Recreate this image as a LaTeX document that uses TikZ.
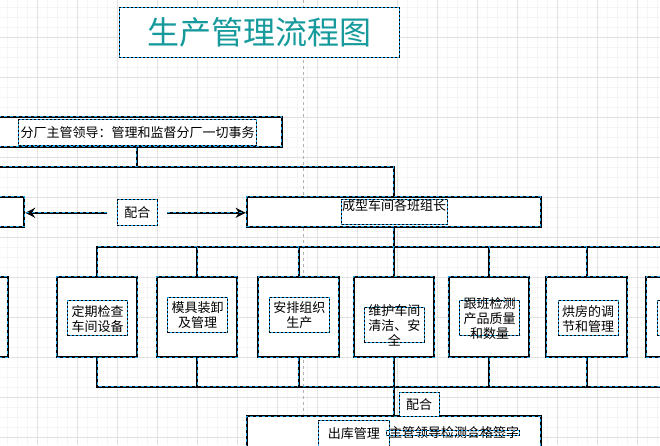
\documentclass[tikz,border=0pt]{standalone}
\usepackage{fontspec}
\setmainfont{Noto Sans CJK SC}
\usetikzlibrary{arrows.meta}

\definecolor{selblue}{RGB}{28,160,232}
\definecolor{titleteal}{RGB}{22,154,156}
\definecolor{gridminor}{RGB}{245,245,245}
\definecolor{gridmajor}{RGB}{226,226,226}

\tikzstyle{unit}=[rectangle,draw=black,line width=2pt,fill=white,inner sep=0pt,postaction={draw=selblue,line width=1pt,dash pattern=on 3pt off 3pt}]
\tikzstyle{tbox}=[rectangle,draw=selblue,line width=1pt,inner sep=0pt,postaction={draw=black,line width=1pt,dash pattern=on 2pt off 2pt}]
\tikzstyle{txt}=[inner sep=0pt,align=center,font=\fontsize{13}{15}\selectfont]
\tikzstyle{link}=[draw=black,line width=2pt,postaction={draw=selblue,line width=1pt,dash pattern=on 3pt off 3pt}]
\tikzstyle{arrowlink}=[draw=black,line width=2pt,-{Stealth[length=10pt,width=10pt]},postaction={draw=selblue,line width=1pt,dash pattern=on 3pt off 3pt,-}]

\begin{document}
\begin{tikzpicture}[x=1pt,y=-1pt]
		\useasboundingbox (0,0) rectangle (660,445);
		\clip (0,0) rectangle (660,445);
		% grid
		\foreach \g in {7.3,17.3,...,660} \draw[gridminor,line width=0.6pt] (\g,0) -- (\g,445);
		\foreach \g in {7.3,17.3,...,445} \draw[gridminor,line width=0.6pt] (0,\g) -- (660,\g);
		\foreach \g in {37.3,77.3,...,660} \draw[gridmajor,line width=0.8pt] (\g,0) -- (\g,445);
		\foreach \g in {37.3,77.3,...,445} \draw[gridmajor,line width=0.8pt] (0,\g) -- (660,\g);
		\draw[gray!60,dashed,line width=0.6pt] (303.3,0) -- (303.3,445);
		
		\node [tbox,fill=white,minimum width=280pt,minimum height=50pt,text=titleteal,font=\fontsize{32}{32}\selectfont] (title) at (259,32) {生产管理流程图};
		
		\node [unit,minimum width=289.7pt,minimum height=30pt] (mgr)     at (136.8,131.7) {};
		\node [tbox,txt,minimum width=238pt,minimum height=25.7pt] (mgrbox) at (137.5,132.8) {分厂主管领导：管理和监督分厂一切事务};
		
		\node [unit,minimum width=200pt,minimum height=30pt]   (ltop)     at (-75.8,211.7) {};
		\node [unit,minimum width=294.3pt,minimum height=30pt] (line)     at (393.8,211.7) {};
		\node [tbox,minimum width=106.3pt,minimum height=25pt] (linebox)  at (394.8,211.5) {};
		\node [txt]                                            (linetext) at (394,206) {成型车间各班组长};
		\node [tbox,txt,fill=white,minimum width=40pt,minimum height=25.7pt] (coop1) at (137.3,212.8) {配合};
		
		\node [unit,minimum size=80.6pt] (b0) at (-32.7,317) {};
		\node [unit,minimum size=80.6pt] (b1) at (97,317)    {};
		\node [unit,minimum size=80.6pt] (b2) at (197,317)   {};
		\node [unit,minimum size=80.6pt] (b3) at (298.5,317) {};
		\node [unit,minimum size=80.6pt] (b4) at (393.8,317) {};
		\node [unit,minimum size=80.6pt] (b5) at (489,317)   {};
		\node [unit,minimum size=80.6pt] (b6) at (586.7,317) {};
		\node [unit,minimum size=80.6pt] (b7) at (686.7,317) {};
		
		\node [tbox,minimum width=60pt,minimum height=35pt] (b1box) at (97.5,318.2)  {};
		\node [tbox,minimum width=60pt,minimum height=35pt] (b2box) at (197.5,315)   {};
		\node [tbox,minimum width=60pt,minimum height=35pt] (b3box) at (299.3,315)   {};
		\node [tbox,minimum width=60pt,minimum height=35pt] (b4box) at (394.3,324.8) {};
		\node [tbox,minimum width=60pt,minimum height=35pt] (b5box) at (489.7,317.9) {};
		\node [tbox,minimum width=60pt,minimum height=35pt] (b6box) at (588,318.2)   {};
		\node [tbox,minimum width=60pt,minimum height=35pt] (b7box) at (687.3,318.2) {};
		
		\node [txt] (b1text) at (97.5,319.2)  {定期检查\\车间设备};
		\node [txt] (b2text) at (197.5,315.5) {模具装卸\\及管理};
		\node [txt] (b3text) at (299.3,315.5) {安排组织\\生产};
		\node [txt] (b4text) at (394.3,325.5) {维护车间\\清洁、安\\全};
		\node [txt] (b5text) at (489.7,318.3) {跟班检测\\产品质量\\和数量};
		\node [txt] (b6text) at (588,318.8)   {烘房的调\\节和管理};
		
		\node [unit,minimum width=294.3pt,minimum height=60pt] (out) at (393.8,446) {};
		\node [tbox,txt,minimum width=71pt,minimum height=28pt] (outbox) at (353.8,434) {出库管理};
		\node [txt]                                             (signtext) at (454,433) {主管领导检测合格签字};
		\node [tbox,minimum width=132.6pt,minimum height=5pt]   (signbox)  at (453,432.5) {};
		
		\coordinate (mgrbus) at (0,166.7);
		\coordinate (topbus) at (0,246.7);
		\coordinate (botbus) at (0,386.7);
		
		\draw [link] (mgr.south) -- (mgr.south |- mgrbus);
		\draw [link] (ltop.north) |- (mgr.south |- mgrbus) -| (line.north);
		\draw [arrowlink,shorten <=10pt] (coop1.west) -- (coop1.west -| ltop.east);
		\draw [arrowlink,shorten <=9.4pt] (coop1.east) -- (coop1.east -| line.west);
		
		\draw [link] (line.south) -- (line.south |- topbus);
		\draw [link] (b1.north) |- (b7.north |- topbus) -- (b7.north);
		\foreach \b in {b2,b3,b4,b5,b6}
			\draw [link] (\b.north |- topbus) -- (\b.north);
		
		\draw [link] (b1.south) |- (b7.south |- botbus) -- (b7.south);
		\foreach \b in {b2,b3,b4,b5,b6}
			\draw [link] (\b.south) -- (\b.south |- botbus);
		\draw [link] (b4.south |- botbus) -- (out.north);
		
		\node [tbox,txt,fill=white,minimum width=40.3pt,minimum height=24.4pt] (coop2) at (419.2,404.5) {配合};
\end{tikzpicture}
\end{document}
